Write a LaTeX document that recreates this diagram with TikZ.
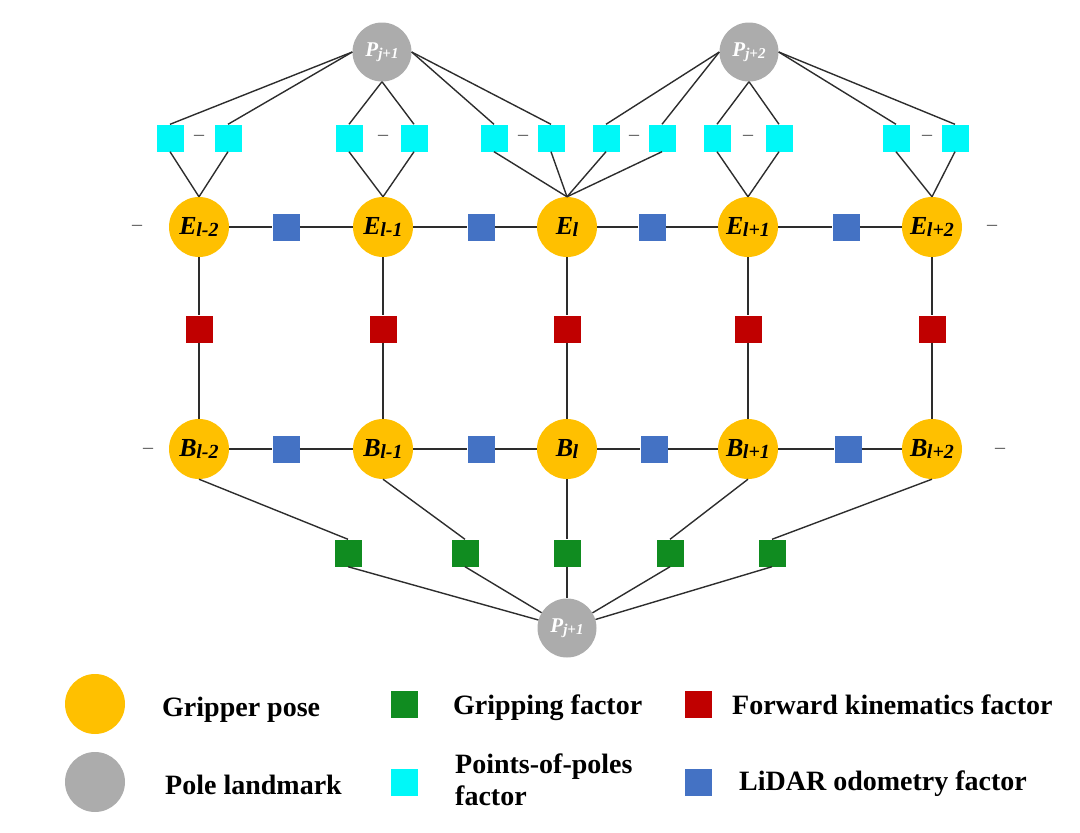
\documentclass[tikz,border=0pt]{standalone}
\usepackage{fontspec}
\setmainfont{Liberation Serif}
\definecolor{posecol}{RGB}{255,192,0}
\definecolor{lmkcol}{RGB}{172,172,172}
\definecolor{cyanf}{RGB}{0,248,248}
\definecolor{bluef}{RGB}{68,114,196}
\definecolor{redf}{RGB}{192,0,0}
\definecolor{greenf}{RGB}{16,140,32}
\definecolor{edgecol}{RGB}{45,45,45}
\definecolor{dashcol}{RGB}{80,80,80}
\newcommand{\poselab}[2]{\fontsize{26}{26}\selectfont\bfseries\itshape #1\kern-0.5pt\raisebox{-2pt}{\fontsize{20}{20}\selectfont #2}}
\newcommand{\lmklab}[2]{\color{white}\fontsize{21}{21}\selectfont\bfseries\itshape #1\raisebox{-2pt}{\fontsize{15}{15}\selectfont #2}}
\begin{document}
\begin{tikzpicture}[x=1pt,y=-1pt,
  pose/.style={circle,fill=posecol,minimum size=60pt,inner sep=0pt},
  lmk/.style={circle,fill=lmkcol,minimum size=59pt,inner sep=0pt},
  fac/.style={rectangle,minimum size=27pt,inner sep=0pt},
  ppf/.style={fac,fill=cyanf},
  lid/.style={fac,fill=bluef},
  fkf/.style={fac,fill=redf},
  grf/.style={fac,fill=greenf},
  edge/.style={draw=edgecol,line width=1.4pt},
  gap/.style={text=dashcol,font=\fontsize{20}{20}\selectfont,inner sep=0pt},
  legtext/.style={anchor=base west,font=\fontsize{28}{32}\selectfont\bfseries,inner sep=0pt,align=left}
]
\useasboundingbox (0,0) rectangle (1080,833);

% landmarks
\node[lmk] (P1) at (382,52) {\lmklab{P}{j+1}};
\node[lmk] (P2) at (749,52) {\lmklab{P}{j+2}};
\node[lmk] (P3) at (567,628) {\lmklab{P}{j+1}};

% gripper poses
\node[pose] (E1) at (199,227) {\poselab{E}{l-2}};
\node[pose] (E2) at (383,227) {\poselab{E}{l-1}};
\node[pose] (E3) at (567,227) {\poselab{E}{l}};
\node[pose] (E4) at (748,227) {\poselab{E}{l+1}};
\node[pose] (E5) at (932,227) {\poselab{E}{l+2}};
\node[pose] (B1) at (199,449) {\poselab{B}{l-2}};
\node[pose] (B2) at (383,449) {\poselab{B}{l-1}};
\node[pose] (B3) at (567,449) {\poselab{B}{l}};
\node[pose] (B4) at (748,449) {\poselab{B}{l+1}};
\node[pose] (B5) at (932,449) {\poselab{B}{l+2}};

% points-of-poles factors
\node[ppf] (c1) at (170,138) {};
\node[ppf] (c2) at (228,138) {};
\node[ppf] (c3) at (349,138) {};
\node[ppf] (c4) at (414,138) {};
\node[ppf] (c5) at (494,138) {};
\node[ppf] (c6) at (551,138) {};
\node[ppf] (c7) at (606,138) {};
\node[ppf] (c8) at (662,138) {};
\node[ppf] (c9) at (717,138) {};
\node[ppf] (c10) at (779,138) {};
\node[ppf] (c11) at (896,138) {};
\node[ppf] (c12) at (955,138) {};

% LiDAR odometry factors
\node[lid] (LE1) at (286,227) {};
\node[lid] (LE2) at (481,227) {};
\node[lid] (LE3) at (652,227) {};
\node[lid] (LE4) at (846,227) {};
\node[lid] (LB1) at (286,449) {};
\node[lid] (LB2) at (481,449) {};
\node[lid] (LB3) at (654,449) {};
\node[lid] (LB4) at (848,449) {};

% forward kinematics factors
\node[fkf] (R1) at (199,329) {};
\node[fkf] (R2) at (383,329) {};
\node[fkf] (R3) at (567,329) {};
\node[fkf] (R4) at (748,329) {};
\node[fkf] (R5) at (932,329) {};

% gripping factors
\node[grf] (G1) at (348,553) {};
\node[grf] (G2) at (465,553) {};
\node[grf] (G3) at (567,553) {};
\node[grf] (G4) at (670,553) {};
\node[grf] (G5) at (772,553) {};

% gaps
\node[gap] (d1) at (199,138) {–};
\node[gap] (d2) at (383,138) {–};
\node[gap] (d3) at (523,138) {–};
\node[gap] (d4) at (634,138) {–};
\node[gap] (d5) at (748,138) {–};
\node[gap] (d6) at (927,138) {–};
\node[gap] (d7) at (137,228) {–};
\node[gap] (d8) at (992,228) {–};
\node[gap] (d9) at (148,451) {–};
\node[gap] (d10) at (1000,451) {–};

% edges: landmarks to points-of-poles factors
\draw[edge] (P1.west) -- (c1.north);
\draw[edge] (P1.west) -- (c2.north);
\draw[edge] (P1.south) -- (c3.north);
\draw[edge] (P1.south) -- (c4.north);
\draw[edge] (P1.east) -- (c5.north);
\draw[edge] (P1.east) -- (c6.north);
\draw[edge] (P2.west) -- (c7.north);
\draw[edge] (P2.west) -- (c8.north);
\draw[edge] (P2.south) -- (c9.north);
\draw[edge] (P2.south) -- (c10.north);
\draw[edge] (P2.east) -- (c11.north);
\draw[edge] (P2.east) -- (c12.north);
% points-of-poles factors to E
\draw[edge] (c1.south) -- (E1.north);
\draw[edge] (c2.south) -- (E1.north);
\draw[edge] (c3.south) -- (E2.north);
\draw[edge] (c4.south) -- (E2.north);
\draw[edge] (c5.south) -- (E3.north);
\draw[edge] (c6.south) -- (E3.north);
\draw[edge] (c7.south) -- (E3.north);
\draw[edge] (c8.south) -- (E3.north);
\draw[edge] (c9.south) -- (E4.north);
\draw[edge] (c10.south) -- (E4.north);
\draw[edge] (c11.south) -- (E5.north);
\draw[edge] (c12.south) -- (E5.north);
% odometry chains
\draw[edge] (E1) -- (LE1) -- (E2) -- (LE2) -- (E3) -- (LE3) -- (E4) -- (LE4) -- (E5);
\draw[edge] (B1) -- (LB1) -- (B2) -- (LB2) -- (B3) -- (LB3) -- (B4) -- (LB4) -- (B5);
% forward kinematics
\draw[edge] (E1) -- (R1) -- (B1);
\draw[edge] (E2) -- (R2) -- (B2);
\draw[edge] (E3) -- (R3) -- (B3);
\draw[edge] (E4) -- (R4) -- (B4);
\draw[edge] (E5) -- (R5) -- (B5);
% gripping
\draw[edge] (B1.south) -- (G1.north);
\draw[edge] (B2.south) -- (G2.north);
\draw[edge] (B3) -- (G3);
\draw[edge] (B4.south) -- (G4.north);
\draw[edge] (B5.south) -- (G5.north);
\draw[edge] (G1.south) -- (P3);
\draw[edge] (G2.south) -- (P3);
\draw[edge] (G3) -- (P3);
\draw[edge] (G4.south) -- (P3);
\draw[edge] (G5.south) -- (P3);

% legend
\node[pose] (lg1) at (95,704) {};
\node[lmk,minimum size=60pt] (lg2) at (95,782) {};
\node[grf] (lg3) at (404,704) {};
\node[ppf] (lg4) at (404,782) {};
\node[fkf] (lg5) at (698,704) {};
\node[lid] (lg6) at (698,782) {};
\node[legtext] (t1) at (162,716) {Gripper pose};
\node[legtext] (t2) at (165,794) {Pole landmark};
\node[legtext] (t3) at (453,714) {Gripping factor};
\node[legtext] (t4) at (455,805) {Points-of-poles\\factor};
\node[legtext] (t5) at (732,714) {Forward kinematics factor};
\node[legtext] (t6) at (739,790) {LiDAR odometry factor};
\end{tikzpicture}
\end{document}
